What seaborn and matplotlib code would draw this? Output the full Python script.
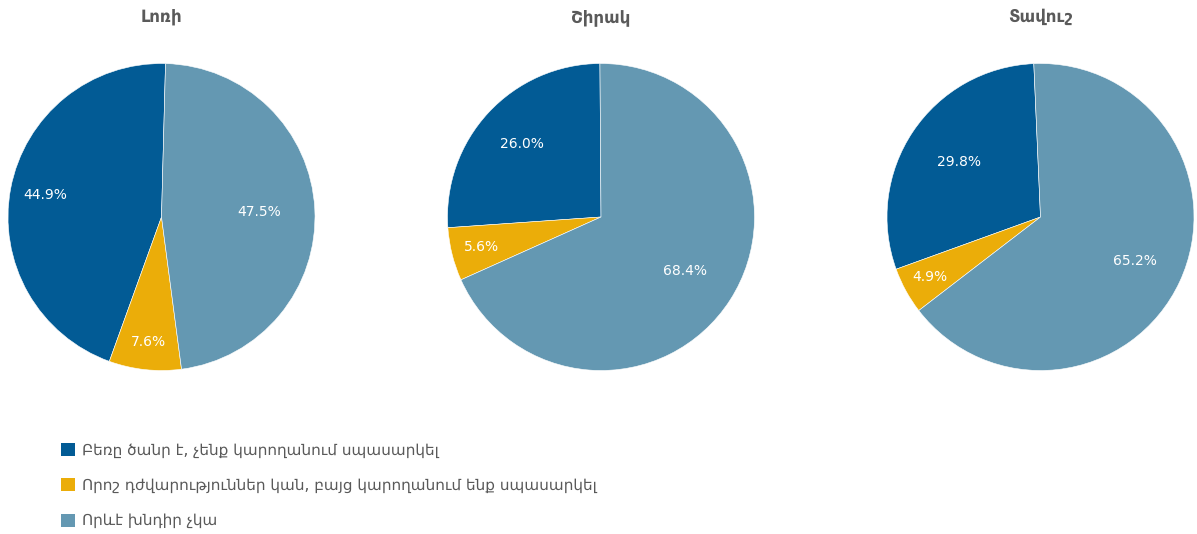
import numpy as np
import matplotlib
matplotlib.use('Agg')
import matplotlib.pyplot as plt
from matplotlib.patches import Patch
import seaborn as sns

REGIONS = ['Լոռի', 'Շիրակ', 'Տավուշ']
CATEGORIES = [
    'Բեռը ծանր է, չենք կարողանում սպասարկել',
    'Որոշ դժվարություններ կան, բայց կարողանում ենք սպասարկել',
    'Որևէ խնդիր չկա',
]
LORI = [44.9, 7.6, 47.5]
SHIRAK = [26.0, 5.6, 68.4]
TAVUSH = [29.8, 4.9, 65.2]
VALUES = [LORI, SHIRAK, TAVUSH]

COLORS = ['#025b95', '#ebad09', '#6498b2']

# drawing style per pie
START_ANGLES = [88.5, 90.4, 92.5]
LABEL_RADII = [[0.77, 0.82, 0.64], [0.70, 0.80, 0.65], [0.64, 0.82, 0.68]]
CENTERS_X = [161.5, 601.0, 1040.5]
CENTER_Y = 217.0
R = 153.5
W, H = 1197, 534

sns.set_theme(style='white')
plt.rcParams['font.family'] = ['DejaVu Sans']

fig = plt.figure(figsize=(W / 100, H / 100), dpi=100)

for i, (name, vals) in enumerate(zip(REGIONS, VALUES)):
    cx = CENTERS_X[i]
    ax = fig.add_axes([(cx - R) / W, 1 - (CENTER_Y + R) / H, 2 * R / W, 2 * R / H])
    wedges, _ = ax.pie(vals, colors=COLORS, startangle=START_ANGLES[i], counterclock=True,
                       wedgeprops=dict(edgecolor='white', linewidth=0.4))
    ax.set_xlim(-1, 1)
    ax.set_ylim(-1, 1)
    ax.set_aspect('equal')
    for w, v, d in zip(wedges, vals, LABEL_RADII[i]):
        mid = np.deg2rad((w.theta1 + w.theta2) / 2)
        ax.text(d * np.cos(mid), d * np.sin(mid), f'{v:.1f}%', color='white',
                ha='center', va='center', fontsize=10)
    ax.set_title(name, fontsize=12, fontweight='bold', color='#5a5a5a', pad=30)

handles = [Patch(facecolor=c, edgecolor='none') for c in COLORS]
fig.legend(handles, CATEGORIES, loc='upper left', bbox_to_anchor=(47 / W, 1 - 429 / H),
           frameon=False, fontsize=11, labelcolor='#595959', handlelength=0.92,
           handleheight=0.92, handletextpad=0.45, labelspacing=1.32)

fig.savefig('out.png', dpi=100)
